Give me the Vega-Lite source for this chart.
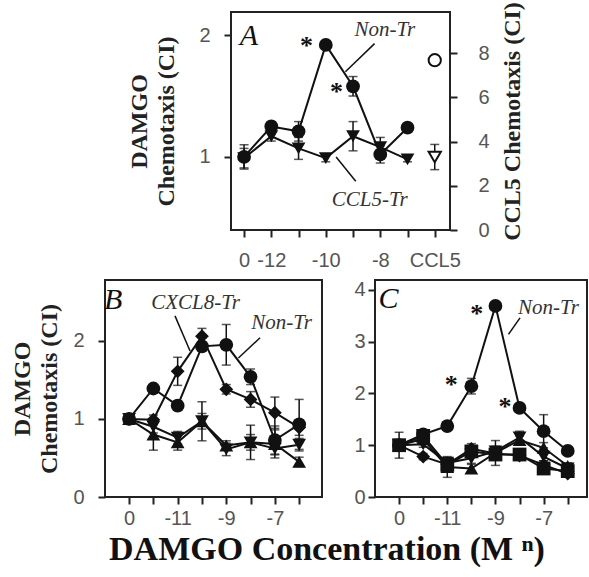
{
  "$schema": "https://vega.github.io/schema/vega-lite/v6.json",
  "padding": {"left": 9, "top": 0, "right": 0, "bottom": 0},
  "background": "white",
  "config": {
    "view": {"stroke": "#222", "strokeWidth": 2},
    "axis": {"labelFont": "Liberation Sans", "labelFontSize": 20, "labelColor": "#555", "tickColor": "#222", "tickWidth": 2, "tickSize": 7, "domain": false, "grid": false, "titleFont": "Liberation Serif", "titleFontWeight": "bold", "titleFontSize": 24, "titleColor": "#222", "titleLineHeight": 27, "labelOverlap": false, "labelFlush": false}
  },
  "title": {"text": "DAMGO Concentration (M ⁿ)", "orient": "bottom", "anchor": "middle", "font": "Liberation Serif", "fontWeight": "bold", "fontSize": 34, "color": "#111", "offset": 4, "dx": 28},
  "datasets": {
    "pts": [
      {"panel": "A", "series": "Non-Tr", "idx": 0, "v": 1.0, "err": 0.1},
      {"panel": "A", "series": "Non-Tr", "idx": 1, "v": 1.25, "err": 0.04},
      {"panel": "A", "series": "Non-Tr", "idx": 2, "v": 1.21, "err": 0.08},
      {"panel": "A", "series": "Non-Tr", "idx": 3, "v": 1.92, "err": 0.03},
      {"panel": "A", "series": "Non-Tr", "idx": 4, "v": 1.58, "err": 0.08},
      {"panel": "A", "series": "Non-Tr", "idx": 5, "v": 1.02, "err": 0.07},
      {"panel": "A", "series": "Non-Tr", "idx": 6, "v": 1.24, "err": 0.03},
      {"panel": "A", "series": "CCL5-Tr", "idx": 0, "v": 0.99, "err": 0.08},
      {"panel": "A", "series": "CCL5-Tr", "idx": 1, "v": 1.17, "err": 0.04},
      {"panel": "A", "series": "CCL5-Tr", "idx": 2, "v": 1.07, "err": 0.09},
      {"panel": "A", "series": "CCL5-Tr", "idx": 3, "v": 0.99, "err": 0.03},
      {"panel": "A", "series": "CCL5-Tr", "idx": 4, "v": 1.17, "err": 0.12},
      {"panel": "A", "series": "CCL5-Tr", "idx": 5, "v": 1.08, "err": 0.08},
      {"panel": "A", "series": "CCL5-Tr", "idx": 6, "v": 0.98, "err": 0.02},

      {"panel": "B", "series": "Non-Tr", "idx": 0, "v": 1.0, "err": 0.03},
      {"panel": "B", "series": "Non-Tr", "idx": 1, "v": 1.39, "err": 0.05},
      {"panel": "B", "series": "Non-Tr", "idx": 2, "v": 1.17, "err": 0.06},
      {"panel": "B", "series": "Non-Tr", "idx": 3, "v": 1.93, "err": 0.05},
      {"panel": "B", "series": "Non-Tr", "idx": 4, "v": 1.95, "err": 0.26},
      {"panel": "B", "series": "Non-Tr", "idx": 5, "v": 1.54, "err": 0.1},
      {"panel": "B", "series": "Non-Tr", "idx": 6, "v": 0.73, "err": 0.18},
      {"panel": "B", "series": "Non-Tr", "idx": 7, "v": 0.93, "err": 0.32},
      {"panel": "B", "series": "CXCL8-Tr", "idx": 0, "v": 1.0, "err": 0.03},
      {"panel": "B", "series": "CXCL8-Tr", "idx": 1, "v": 0.99, "err": 0.06},
      {"panel": "B", "series": "CXCL8-Tr", "idx": 2, "v": 1.61, "err": 0.18},
      {"panel": "B", "series": "CXCL8-Tr", "idx": 3, "v": 2.06, "err": 0.1},
      {"panel": "B", "series": "CXCL8-Tr", "idx": 4, "v": 1.38, "err": 0.06},
      {"panel": "B", "series": "CXCL8-Tr", "idx": 5, "v": 1.25, "err": 0.1},
      {"panel": "B", "series": "CXCL8-Tr", "idx": 6, "v": 1.08, "err": 0.2},
      {"panel": "B", "series": "CXCL8-Tr", "idx": 7, "v": 0.89, "err": 0.1},
      {"panel": "B", "series": "Series 3", "idx": 0, "v": 1.0, "err": 0.03},
      {"panel": "B", "series": "Series 3", "idx": 1, "v": 0.8, "err": 0.2},
      {"panel": "B", "series": "Series 3", "idx": 2, "v": 0.7, "err": 0.1},
      {"panel": "B", "series": "Series 3", "idx": 3, "v": 0.97, "err": 0.25},
      {"panel": "B", "series": "Series 3", "idx": 4, "v": 0.66, "err": 0.06},
      {"panel": "B", "series": "Series 3", "idx": 5, "v": 0.7, "err": 0.22},
      {"panel": "B", "series": "Series 3", "idx": 6, "v": 0.68, "err": 0.18},
      {"panel": "B", "series": "Series 3", "idx": 7, "v": 0.45, "err": 0.06},
      {"panel": "B", "series": "Series 4", "idx": 0, "v": 1.0, "err": 0.03},
      {"panel": "B", "series": "Series 4", "idx": 1, "v": 0.9, "err": 0.08},
      {"panel": "B", "series": "Series 4", "idx": 2, "v": 0.76, "err": 0.08},
      {"panel": "B", "series": "Series 4", "idx": 3, "v": 0.97, "err": 0.1},
      {"panel": "B", "series": "Series 4", "idx": 4, "v": 0.61, "err": 0.08},
      {"panel": "B", "series": "Series 4", "idx": 5, "v": 0.7, "err": 0.1},
      {"panel": "B", "series": "Series 4", "idx": 6, "v": 0.62, "err": 0.08},
      {"panel": "B", "series": "Series 4", "idx": 7, "v": 0.67, "err": 0.08},

      {"panel": "C", "series": "Non-Tr", "idx": 0, "v": 1.0, "err": 0.25},
      {"panel": "C", "series": "Non-Tr", "idx": 1, "v": 1.21, "err": 0.05},
      {"panel": "C", "series": "Non-Tr", "idx": 2, "v": 1.37, "err": 0.06},
      {"panel": "C", "series": "Non-Tr", "idx": 3, "v": 2.14, "err": 0.15},
      {"panel": "C", "series": "Non-Tr", "idx": 4, "v": 3.69, "err": 0.04},
      {"panel": "C", "series": "Non-Tr", "idx": 5, "v": 1.72, "err": 0.05},
      {"panel": "C", "series": "Non-Tr", "idx": 6, "v": 1.27, "err": 0.32},
      {"panel": "C", "series": "Non-Tr", "idx": 7, "v": 0.89, "err": 0.06},
      {"panel": "C", "series": "Series 2", "idx": 0, "v": 1.0, "err": 0.05},
      {"panel": "C", "series": "Series 2", "idx": 1, "v": 0.78, "err": 0.06},
      {"panel": "C", "series": "Series 2", "idx": 2, "v": 0.63, "err": 0.08},
      {"panel": "C", "series": "Series 2", "idx": 3, "v": 0.93, "err": 0.1},
      {"panel": "C", "series": "Series 2", "idx": 4, "v": 0.84, "err": 0.1},
      {"panel": "C", "series": "Series 2", "idx": 5, "v": 0.8, "err": 0.08},
      {"panel": "C", "series": "Series 2", "idx": 6, "v": 0.62, "err": 0.08},
      {"panel": "C", "series": "Series 2", "idx": 7, "v": 0.45, "err": 0.06},
      {"panel": "C", "series": "Series 3", "idx": 0, "v": 1.0, "err": 0.05},
      {"panel": "C", "series": "Series 3", "idx": 1, "v": 1.12, "err": 0.06},
      {"panel": "C", "series": "Series 3", "idx": 2, "v": 0.58, "err": 0.2},
      {"panel": "C", "series": "Series 3", "idx": 3, "v": 0.55, "err": 0.08},
      {"panel": "C", "series": "Series 3", "idx": 4, "v": 0.85, "err": 0.24},
      {"panel": "C", "series": "Series 3", "idx": 5, "v": 1.1, "err": 0.08},
      {"panel": "C", "series": "Series 3", "idx": 6, "v": 0.95, "err": 0.1},
      {"panel": "C", "series": "Series 3", "idx": 7, "v": 0.6, "err": 0.06},
      {"panel": "C", "series": "Series 4", "idx": 0, "v": 1.0, "err": 0.05},
      {"panel": "C", "series": "Series 4", "idx": 1, "v": 1.02, "err": 0.06},
      {"panel": "C", "series": "Series 4", "idx": 2, "v": 0.66, "err": 0.08},
      {"panel": "C", "series": "Series 4", "idx": 3, "v": 0.75, "err": 0.1},
      {"panel": "C", "series": "Series 4", "idx": 4, "v": 0.88, "err": 0.1},
      {"panel": "C", "series": "Series 4", "idx": 5, "v": 1.15, "err": 0.12},
      {"panel": "C", "series": "Series 4", "idx": 6, "v": 0.78, "err": 0.08},
      {"panel": "C", "series": "Series 4", "idx": 7, "v": 0.55, "err": 0.06},
      {"panel": "C", "series": "Series 5", "idx": 0, "v": 1.0, "err": 0.05},
      {"panel": "C", "series": "Series 5", "idx": 1, "v": 1.18, "err": 0.06},
      {"panel": "C", "series": "Series 5", "idx": 2, "v": 0.62, "err": 0.08},
      {"panel": "C", "series": "Series 5", "idx": 3, "v": 0.88, "err": 0.1},
      {"panel": "C", "series": "Series 5", "idx": 4, "v": 0.82, "err": 0.1},
      {"panel": "C", "series": "Series 5", "idx": 5, "v": 0.82, "err": 0.08},
      {"panel": "C", "series": "Series 5", "idx": 6, "v": 0.55, "err": 0.08},
      {"panel": "C", "series": "Series 5", "idx": 7, "v": 0.5, "err": 0.06}
    ],
    "ccl5": [
      {"series": "Non-Tr", "idx": 7, "v": 7.68, "err": 0},
      {"series": "CCL5-Tr", "idx": 7, "v": 3.3, "err": 0.57}
    ],
    "labels": [
      {"panel": "A", "idx": 5.17, "v": 2.04, "label": "Non-Tr"},
      {"panel": "A", "idx": 4.61, "v": 0.65, "label": "CCL5-Tr"},
      {"panel": "B", "idx": 2.74, "v": 2.49, "label": "CXCL8-Tr"},
      {"panel": "B", "idx": 6.28, "v": 2.23, "label": "Non-Tr"},
      {"panel": "C", "idx": 6.2, "v": 3.65, "label": "Non-Tr"}
    ],
    "letters": [
      {"panel": "A", "idx": 0.18, "v": 1.99, "label": "A"},
      {"panel": "B", "idx": -0.65, "v": 2.53, "label": "B"},
      {"panel": "C", "idx": -0.44, "v": 3.82, "label": "C"}
    ],
    "stars": [
      {"panel": "A", "idx": 2.29, "v": 1.96, "label": "*"},
      {"panel": "A", "idx": 3.39, "v": 1.58, "label": "*"},
      {"panel": "C", "idx": 3.22, "v": 3.65, "label": "*"},
      {"panel": "C", "idx": 2.16, "v": 2.28, "label": "*"},
      {"panel": "C", "idx": 4.4, "v": 1.85, "label": "*"}
    ],
    "leaders": [
      {"panel": "A", "idx": 4.79, "v": 1.93, "idx2": 3.72, "v2": 1.7},
      {"panel": "A", "idx": 3.38, "v": 1.0, "idx2": 4.1, "v2": 0.8},
      {"panel": "B", "idx": 1.89, "v": 2.32, "idx2": 2.51, "v2": 1.87},
      {"panel": "B", "idx": 5.39, "v": 2.04, "idx2": 4.5, "v2": 1.78},
      {"panel": "C", "idx": 5.02, "v": 3.46, "idx2": 4.54, "v2": 3.14}
    ]
  },
  "spacing": 7,
  "vconcat": [
    {
      "bounds": "flush",
      "spacing": 0,
      "hconcat": [
        {"width": 126, "height": 218, "view": {"stroke": null}, "data": {"values": []}, "mark": "point"},
        {
          "width": 219,
          "height": 218,
          "view": {"stroke": "#222", "strokeWidth": 2},
          "resolve": {"scale": {"y": "independent"}, "axis": {"y": "independent"}},
          "encoding": {
            "x": {"field": "idx", "type": "quantitative", "scale": {"domain": [-0.48, 7.56], "nice": false, "zero": false},
              "axis": {"values": [0, 1, 2, 3, 4, 5, 6, 7], "title": null, "labelPadding": 13,
                "labelExpr": "datum.value === 0 ? '0' : datum.value === 1 ? '-12' : datum.value === 3 ? '-10' : datum.value === 5 ? '-8' : datum.value === 7 ? 'CCL5' : ''"}}
          },
          "layer": [
            {
              "encoding": {
                "y": {"field": "v", "type": "quantitative", "scale": {"domain": [0.4, 2.19], "nice": false, "zero": false},
                  "axis": {"values": [1, 2], "title": ["DAMGO", "Chemotaxis (CI)"], "labelPadding": 14, "titlePadding": 20}}
              },
              "layer": [
                {"data": {"name": "pts"}, "transform": [{"filter": "datum.panel === 'A'"}],
                 "mark": {"type": "errorbar", "color": "#111", "thickness": 1.5, "size": 9, "ticks": true},
                 "encoding": {"yError": {"field": "err"}, "detail": {"field": "series"}}},
                {"data": {"name": "pts"}, "transform": [{"filter": "datum.panel === 'A'"}],
                 "mark": {"type": "line", "color": "#111", "strokeWidth": 2},
                 "encoding": {"detail": {"field": "series"}}},
                {"data": {"name": "pts"}, "transform": [{"filter": "datum.panel === 'A'"}],
                 "mark": {"type": "point", "filled": true, "color": "#111", "opacity": 1, "size": 190},
                 "encoding": {"shape": {"field": "series", "scale": {"domain": ["Non-Tr", "CCL5-Tr", "CXCL8-Tr", "Series 2", "Series 3", "Series 4", "Series 5"], "range": ["circle", "triangle-down", "diamond", "diamond", "triangle-up", "triangle-down", "square"]}, "legend": null}}},
                {"data": {"name": "leaders"}, "transform": [{"filter": "datum.panel === 'A'"}],
                 "mark": {"type": "rule", "color": "#111", "strokeWidth": 1.5},
                 "encoding": {"x2": {"field": "idx2"}, "y2": {"field": "v2"}}},
                {"data": {"name": "labels"}, "transform": [{"filter": "datum.panel === 'A'"}],
                 "mark": {"type": "text", "font": "Liberation Serif", "fontStyle": "italic", "fontSize": 21, "color": "#333"},
                 "encoding": {"text": {"field": "label"}}},
                {"data": {"name": "letters"}, "transform": [{"filter": "datum.panel === 'A'"}],
                 "mark": {"type": "text", "font": "Liberation Serif", "fontStyle": "italic", "fontSize": 30, "color": "#111"},
                 "encoding": {"text": {"field": "label"}}},
                {"data": {"name": "stars"}, "transform": [{"filter": "datum.panel === 'A'"}],
                 "mark": {"type": "text", "font": "Liberation Serif", "fontWeight": "bold", "fontSize": 26, "color": "#111", "dy": 6},
                 "encoding": {"text": {"field": "label"}}}
              ]
            },
            {
              "data": {"name": "ccl5"},
              "encoding": {
                "y": {"field": "v", "type": "quantitative", "scale": {"domain": [0, 9.86], "nice": false, "zero": false},
                  "axis": {"orient": "right", "values": [0, 2, 4, 6, 8], "title": "CCL5 Chemotaxis (CI)", "titleAngle": 270, "titleBaseline": "top", "labelPadding": 21, "titlePadding": 11}}
              },
              "layer": [
                {"transform": [{"filter": "datum.err > 0"}],
                 "mark": {"type": "errorbar", "color": "#111", "thickness": 1.5, "size": 9, "ticks": true},
                 "encoding": {"yError": {"field": "err"}}},
                {"mark": {"type": "point", "filled": true, "fill": "white", "stroke": "#111", "strokeWidth": 2, "opacity": 1, "size": 150},
                 "encoding": {"shape": {"field": "series", "scale": {"domain": ["Non-Tr", "CCL5-Tr", "CXCL8-Tr", "Series 2", "Series 3", "Series 4", "Series 5"], "range": ["circle", "triangle-down", "diamond", "diamond", "triangle-up", "triangle-down", "square"]}, "legend": null}}}
              ]
            }
          ]
        }
      ]
    },
    {
      "bounds": "flush",
      "spacing": 53,
      "hconcat": [
        {
          "width": 217,
          "height": 217,
          "encoding": {
            "x": {"field": "idx", "type": "quantitative", "scale": {"domain": [-0.99, 7.94], "nice": false, "zero": false},
              "axis": {"values": [0, 1, 2, 3, 4, 5, 6, 7], "title": null, "labelPadding": 4,
                "labelExpr": "datum.value === 0 ? '0' : datum.value === 2 ? '-11' : datum.value === 4 ? '-9' : datum.value === 6 ? '-7' : ''"}},
            "y": {"field": "v", "type": "quantitative", "scale": {"domain": [0, 2.78], "nice": false, "zero": false},
              "axis": {"values": [0, 1, 2], "title": ["DAMGO", "Chemotaxis (CI)"], "labelPadding": 14, "titlePadding": 11}}
          },
          "layer": [
            {"data": {"name": "pts"}, "transform": [{"filter": "datum.panel === 'B'"}],
             "mark": {"type": "errorbar", "color": "#111", "thickness": 1.5, "size": 9, "ticks": true},
             "encoding": {"yError": {"field": "err"}, "detail": {"field": "series"}}},
            {"data": {"name": "pts"}, "transform": [{"filter": "datum.panel === 'B'"}],
             "mark": {"type": "line", "color": "#111", "strokeWidth": 2},
             "encoding": {"detail": {"field": "series"}}},
            {"data": {"name": "pts"}, "transform": [{"filter": "datum.panel === 'B'"}],
             "mark": {"type": "point", "filled": true, "color": "#111", "opacity": 1, "size": 190},
             "encoding": {"shape": {"field": "series", "scale": {"domain": ["Non-Tr", "CCL5-Tr", "CXCL8-Tr", "Series 2", "Series 3", "Series 4", "Series 5"], "range": ["circle", "triangle-down", "diamond", "diamond", "triangle-up", "triangle-down", "square"]}, "legend": null}}},
            {"data": {"name": "leaders"}, "transform": [{"filter": "datum.panel === 'B'"}],
             "mark": {"type": "rule", "color": "#111", "strokeWidth": 1.5},
             "encoding": {"x2": {"field": "idx2"}, "y2": {"field": "v2"}}},
            {"data": {"name": "labels"}, "transform": [{"filter": "datum.panel === 'B'"}],
             "mark": {"type": "text", "font": "Liberation Serif", "fontStyle": "italic", "fontSize": 21, "color": "#333"},
             "encoding": {"text": {"field": "label"}}},
            {"data": {"name": "letters"}, "transform": [{"filter": "datum.panel === 'B'"}],
             "mark": {"type": "text", "font": "Liberation Serif", "fontStyle": "italic", "fontSize": 30, "color": "#111"},
             "encoding": {"text": {"field": "label"}}}
          ]
        },
        {
          "width": 212,
          "height": 217,
          "encoding": {
            "x": {"field": "idx", "type": "quantitative", "scale": {"domain": [-1.0, 7.8], "nice": false, "zero": false},
              "axis": {"values": [0, 1, 2, 3, 4, 5, 6, 7], "title": null, "labelPadding": 4,
                "labelExpr": "datum.value === 0 ? '0' : datum.value === 2 ? '-11' : datum.value === 4 ? '-9' : datum.value === 6 ? '-7' : ''"}},
            "y": {"field": "v", "type": "quantitative", "scale": {"domain": [0, 4.19], "nice": false, "zero": false},
              "axis": {"values": [0, 1, 2, 3, 4], "title": null, "labelPadding": 3}}
          },
          "layer": [
            {"data": {"name": "pts"}, "transform": [{"filter": "datum.panel === 'C'"}],
             "mark": {"type": "errorbar", "color": "#111", "thickness": 1.5, "size": 9, "ticks": true},
             "encoding": {"yError": {"field": "err"}, "detail": {"field": "series"}}},
            {"data": {"name": "pts"}, "transform": [{"filter": "datum.panel === 'C'"}],
             "mark": {"type": "line", "color": "#111", "strokeWidth": 2},
             "encoding": {"detail": {"field": "series"}}},
            {"data": {"name": "pts"}, "transform": [{"filter": "datum.panel === 'C'"}],
             "mark": {"type": "point", "filled": true, "color": "#111", "opacity": 1, "size": 190},
             "encoding": {"shape": {"field": "series", "scale": {"domain": ["Non-Tr", "CCL5-Tr", "CXCL8-Tr", "Series 2", "Series 3", "Series 4", "Series 5"], "range": ["circle", "triangle-down", "diamond", "diamond", "triangle-up", "triangle-down", "square"]}, "legend": null}}},
            {"data": {"name": "leaders"}, "transform": [{"filter": "datum.panel === 'C'"}],
             "mark": {"type": "rule", "color": "#111", "strokeWidth": 1.5},
             "encoding": {"x2": {"field": "idx2"}, "y2": {"field": "v2"}}},
            {"data": {"name": "labels"}, "transform": [{"filter": "datum.panel === 'C'"}],
             "mark": {"type": "text", "font": "Liberation Serif", "fontStyle": "italic", "fontSize": 21, "color": "#333"},
             "encoding": {"text": {"field": "label"}}},
            {"data": {"name": "letters"}, "transform": [{"filter": "datum.panel === 'C'"}],
             "mark": {"type": "text", "font": "Liberation Serif", "fontStyle": "italic", "fontSize": 30, "color": "#111"},
             "encoding": {"text": {"field": "label"}}},
            {"data": {"name": "stars"}, "transform": [{"filter": "datum.panel === 'C'"}],
             "mark": {"type": "text", "font": "Liberation Serif", "fontWeight": "bold", "fontSize": 26, "color": "#111", "dy": 6},
             "encoding": {"text": {"field": "label"}}}
          ]
        }
      ]
    }
  ]
}
